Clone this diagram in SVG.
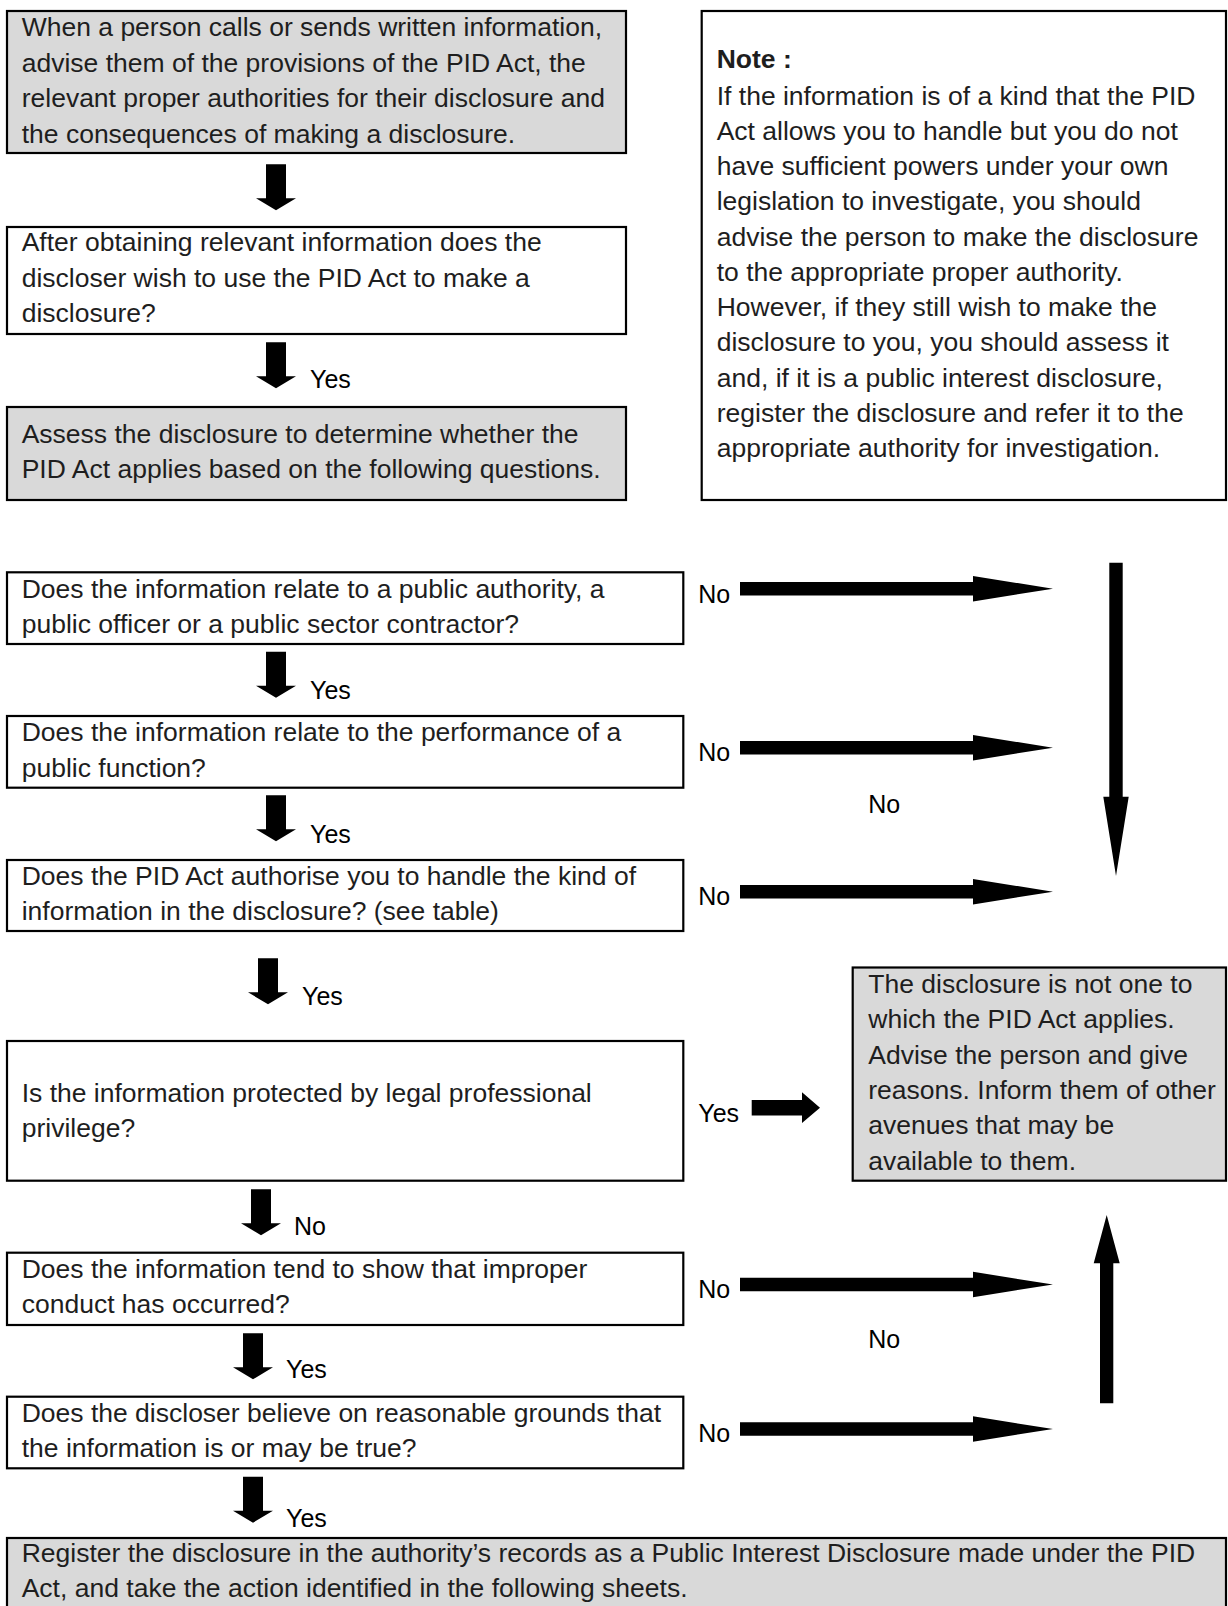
<svg xmlns="http://www.w3.org/2000/svg" width="1228" height="1606" viewBox="0 0 1228 1606">
<style>
.box{stroke:#000;stroke-width:2.2;fill:#fff}
.grey{fill:#d9d9d9}
.t{font-family:"Liberation Sans",Arial,sans-serif;font-size:26.5px;fill:#1e1e1e}
.lbl{font-family:"Liberation Sans",Arial,sans-serif;font-size:25px;fill:#000}
.b{font-weight:bold}
.arr{fill:#000}
</style>
<defs>
<path id="down" d="M-10,0 H10 V34 H20 L0,46 L-20,34 H-10 Z"/>
<path id="right" d="M0,-6.7 H233 V-12.7 L313,0 L233,12.7 V6.7 H0 Z"/>
</defs>
<rect width="1228" height="1606" fill="#fff"/>

<g id="n1">
<rect class="box grey" x="7" y="11" width="619" height="142"/>
<text class="t" x="21.7" y="36">When a person calls or sends written information,</text>
<text class="t" x="21.7" y="71.7">advise them of the provisions of the PID Act, the</text>
<text class="t" x="21.7" y="107.3">relevant proper authorities for their disclosure and</text>
<text class="t" x="21.7" y="142.7">the consequences of making a disclosure.</text>
</g>

<g id="n2">
<rect class="box" x="7" y="227" width="619" height="107"/>
<text class="t" x="21.7" y="251">After obtaining relevant information does the</text>
<text class="t" x="21.7" y="286.7">discloser wish to use the PID Act to make a</text>
<text class="t" x="21.7" y="322.3">disclosure?</text>
</g>

<g id="n3">
<rect class="box grey" x="7" y="407" width="619" height="93"/>
<text class="t" x="21.7" y="443.3">Assess the disclosure to determine whether the</text>
<text class="t" x="21.7" y="478.3">PID Act applies based on the following questions.</text>
</g>

<g id="note">
<rect class="box" x="701.7" y="11" width="524.3" height="489"/>
<text class="t b" x="716.7" y="68.3">Note :</text>
<text class="t" x="716.7" y="105">If the information is of a kind that the PID</text>
<text class="t" x="716.7" y="140">Act allows you to handle but you do not</text>
<text class="t" x="716.7" y="175">have sufficient powers under your own</text>
<text class="t" x="716.7" y="210">legislation to investigate, you should</text>
<text class="t" x="716.7" y="245.5">advise the person to make the disclosure</text>
<text class="t" x="716.7" y="281">to the appropriate proper authority.</text>
<text class="t" x="716.7" y="316">However, if they still wish to make the</text>
<text class="t" x="716.7" y="351">disclosure to you, you should assess it</text>
<text class="t" x="716.7" y="386.5">and, if it is a public interest disclosure,</text>
<text class="t" x="716.7" y="421.5">register the disclosure and refer it to the</text>
<text class="t" x="716.7" y="456.7">appropriate authority for investigation.</text>
</g>

<g id="q1">
<rect class="box" x="7" y="572.3" width="676.3" height="71.7"/>
<text class="t" x="21.7" y="598.3">Does the information relate to a public authority, a</text>
<text class="t" x="21.7" y="633.3">public officer or a public sector contractor?</text>
</g>

<g id="q2">
<rect class="box" x="7" y="716" width="676.3" height="71.7"/>
<text class="t" x="21.7" y="741">Does the information relate to the performance of a</text>
<text class="t" x="21.7" y="776.7">public function?</text>
</g>

<g id="q3">
<rect class="box" x="7" y="860" width="676.3" height="71"/>
<text class="t" x="21.7" y="885">Does the PID Act authorise you to handle the kind of</text>
<text class="t" x="21.7" y="920">information in the disclosure? (see table)</text>
</g>

<g id="q4">
<rect class="box" x="7" y="1041" width="676.3" height="139.7"/>
<text class="t" x="21.7" y="1101.7">Is the information protected by legal professional</text>
<text class="t" x="21.7" y="1136.7">privilege?</text>
</g>

<g id="notapply">
<rect class="box grey" x="852.7" y="967.5" width="373.3" height="213.2"/>
<text class="t" x="868.3" y="993.3">The disclosure is not one to</text>
<text class="t" x="868.3" y="1028.3">which the PID Act applies.</text>
<text class="t" x="868.3" y="1063.5">Advise the person and give</text>
<text class="t" x="868.3" y="1099.3">reasons. Inform them of other</text>
<text class="t" x="868.3" y="1134.3">avenues that may be</text>
<text class="t" x="868.3" y="1170">available to them.</text>
</g>

<g id="q5">
<rect class="box" x="7" y="1252.7" width="676.3" height="72.3"/>
<text class="t" x="21.7" y="1278.3">Does the information tend to show that improper</text>
<text class="t" x="21.7" y="1313.3">conduct has occurred?</text>
</g>

<g id="q6">
<rect class="box" x="7" y="1396.7" width="676.3" height="71.6"/>
<text class="t" x="21.7" y="1421.7">Does the discloser believe on reasonable grounds that</text>
<text class="t" x="21.7" y="1456.7">the information is or may be true?</text>
</g>

<g id="register">
<rect class="box grey" x="7" y="1538" width="1219" height="90"/>
<text class="t" x="21.7" y="1561.7">Register the disclosure in the authority’s records as a Public Interest Disclosure made under the PID</text>
<text class="t" x="21.7" y="1596.7">Act, and take the action identified in the following sheets.</text>
</g>

<g id="connectors" class="arr">
<use href="#down" x="276" y="164.3"/>
<use href="#down" x="276" y="342.3"/>
<text class="lbl" x="310" y="388.3">Yes</text>
<use href="#down" x="276" y="651.7"/>
<text class="lbl" x="310" y="699">Yes</text>
<use href="#down" x="276" y="795.3"/>
<text class="lbl" x="310" y="842.7">Yes</text>
<use href="#down" x="268" y="958.3"/>
<text class="lbl" x="302" y="1005">Yes</text>
<use href="#down" x="261" y="1189.3"/>
<text class="lbl" x="294" y="1235">No</text>
<use href="#down" x="253" y="1333.3"/>
<text class="lbl" x="286" y="1378.3">Yes</text>
<use href="#down" x="253" y="1476.7"/>
<text class="lbl" x="286" y="1526.7">Yes</text>

<text class="lbl" x="698.3" y="602.7">No</text>
<use href="#right" x="740" y="588.7"/>
<text class="lbl" x="698.3" y="761">No</text>
<use href="#right" x="740" y="747.7"/>
<text class="lbl" x="698.3" y="905">No</text>
<use href="#right" x="740" y="891.7"/>
<text class="lbl" x="698.3" y="1297.7">No</text>
<use href="#right" x="740" y="1284.5"/>
<text class="lbl" x="698.3" y="1441.7">No</text>
<use href="#right" x="740" y="1429"/>

<text class="lbl" x="868.3" y="812.7">No</text>
<text class="lbl" x="868.3" y="1348.3">No</text>

<path d="M1109.3,562.7 H1122.7 V796.7 H1128.7 L1116,876 L1103.3,796.7 H1109.3 Z"/>
<path d="M1100,1403.3 H1113.3 V1263.3 H1119.7 L1106.7,1215 L1093.7,1263.3 H1100 Z"/>

<text class="lbl" x="698.3" y="1122">Yes</text>
<path d="M751.7,1100 H802 V1092.3 L820,1107.8 L802,1123 V1115.6 H751.7 Z"/>
</g>
</svg>
